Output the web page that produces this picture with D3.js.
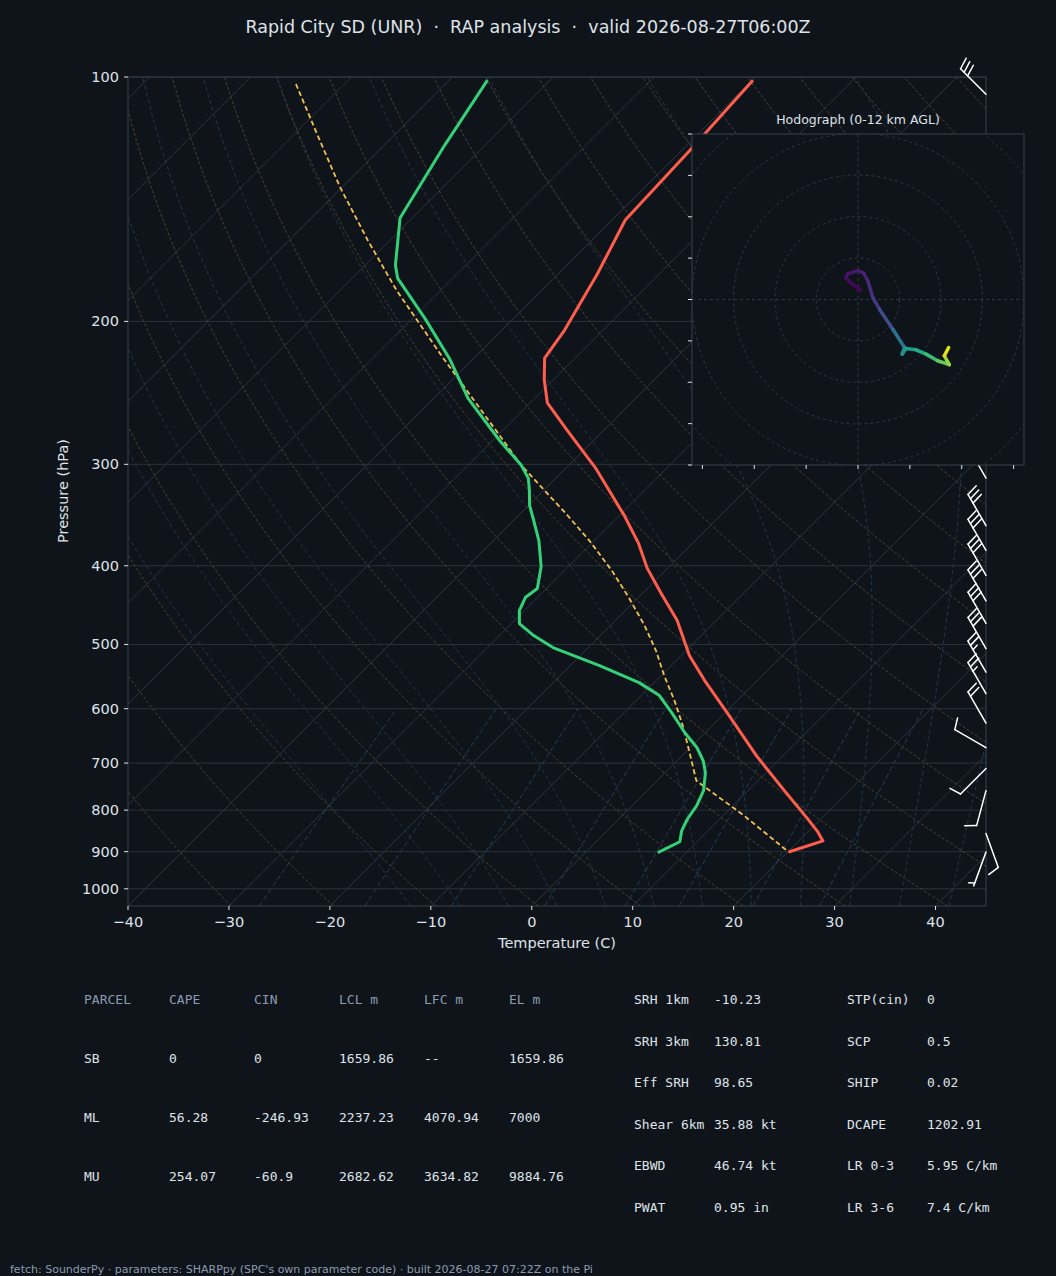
<!DOCTYPE html>
<html><head><meta charset="utf-8">
<script src="https://cdn.jsdelivr.net/npm/d3@7"></script>
<style>html,body{margin:0;padding:0;background:#0f141b;}svg{display:block;}</style>
</head><body>
<svg id="c" width="1056" height="1276"></svg>
<script>
// ---------- data ----------
const tempP = [100.9,123,150,175,205,222,236,252,272,303,347,375,403,433,467,516,554,612,686,751,820,851,873,901];
const tempT = [-59.9,-59.2,-58.7,-56.1,-53.8,-53.0,-50.9,-48.3,-43.7,-37.1,-29.5,-25.4,-22.0,-18.1,-13.9,-9.2,-5.2,0.7,7.4,13.1,18.7,21.0,22.4,20.1];
const dewP = [100.9,121.3,149.2,170.5,176.9,198.3,222.2,248.8,280.4,300.8,312.2,323.1,337.1,351.8,372.4,400.9,426.7,437.7,454.2,471.3,487.6,504.5,530.9,557.2,578.1,606.7,642.3,670.3,695.5,719.4,757.2,790.2,820.4,848.4,875,902.6];
const dewT = [-86.2,-84.0,-81.2,-77.0,-75.5,-68.8,-62.4,-56.6,-49.3,-44.7,-42.7,-41.4,-39.9,-38.0,-35.5,-32.7,-30.9,-31.2,-30.5,-29.2,-26.6,-23.5,-17.1,-11.5,-8.2,-5.3,-2.0,0.7,2.6,4.0,5.6,6.4,6.8,7.4,8.3,7.2];
const parP = [102.0,117.9,136.7,158.9,183.1,221.4,246.6,276.4,300.8,323.1,343.9,372.4,405.5,438.9,474.0,508.8,546.3,586.5,629.6,675.9,736.1,812.8,901];
const parT = [-104.8,-97.6,-90.2,-82.2,-74.4,-63.2,-56.7,-49.8,-44.7,-39.9,-35.7,-30.5,-25.3,-20.8,-16.6,-13.0,-9.7,-6.2,-2.9,0.2,3.9,12.1,20.1];
const barbP = [105,312,357,383,411,442,471,506,541,575,625,670,711,757,855,901];
const barbDir = [315,330,330,330,330,330,330,330,330,330,330,300,225,195,160,200];
const barbSpd = [30,30,30,30,30,30,30,30,25,25,20,10,10,10,10,5];
const hodoU = [0.64,-1.2,-2.96,-2.4,0,1.36,2.4,3.6,5.2,8.4,11.2,10.64,11.6,14,16.4,19.2,22,20.8,21.84];
const hodoV = [2.24,3.6,5.2,6.24,6.96,6.4,4.4,0.4,-2.4,-7.2,-11.6,-13.2,-11.84,-12.16,-13.2,-14.8,-15.76,-13.6,-11.6];
const hodoZ = [0,0.2,0.4,0.6,0.8,1.0,1.3,1.7,2.2,3.5,5.5,6,6.3,7,7.8,8.6,9.5,10.8,12];
const pTicks = [100,200,300,400,500,600,700,800,900,1000];
const tTicks = [-40,-30,-20,-10,0,10,20,30,40];
const parcelHead = ["PARCEL","CAPE","CIN","LCL m","LFC m","EL m"];
const parcelRows = [["SB","0","0","1659.86","--","1659.86"],["ML","56.28","-246.93","2237.23","4070.94","7000"],["MU","254.07","-60.9","2682.62","3634.82","9884.76"]];
const paramL = [["SRH 1km","-10.23"],["SRH 3km","130.81"],["Eff SRH","98.65"],["Shear 6km","35.88 kt"],["EBWD","46.74 kt"],["PWAT","0.95 in"]];
const paramR = [["STP(cin)","0"],["SCP","0.5"],["SHIP","0.02"],["DCAPE","1202.91"],["LR 0-3","5.95 C/km"],["LR 3-6","7.4 C/km"]];

// ---------- layout ----------
const svg = d3.select("#c");
const L=128,R=986,T=77,B=906;
const x = d3.scaleLinear().domain([-40,45]).range([L,R]);
const y = d3.scaleLog().domain([1050,100]).range([B,T]);
const sx = (t,p)=> x(t) + (B - y(p));
const BG="#0f141b", TXT="#dfe3e8";
svg.append("rect").attr("width",1056).attr("height",1276).attr("fill",BG);

svg.append("text").attr("x",528).attr("y",33).attr("text-anchor","middle").style("white-space","pre")
  .attr("font-family","DejaVu Sans").attr("font-size",17.5).attr("fill",TXT)
  .text("Rapid City SD (UNR)  \u00b7  RAP analysis  \u00b7  valid 2026-08-27T06:00Z");

svg.append("defs").append("clipPath").attr("id","pc").append("rect")
  .attr("x",L).attr("y",T).attr("width",R-L).attr("height",B-T);
const g = svg.append("g").attr("clip-path","url(#pc)");

pTicks.forEach(p=>g.append("line").attr("x1",L).attr("x2",R).attr("y1",y(p)).attr("y2",y(p))
  .attr("stroke","#2a323d").attr("stroke-width",1));
for(let t=-120;t<=50;t+=10){
  g.append("line").attr("x1",sx(t,1050)).attr("y1",y(1050)).attr("x2",sx(t,100)).attr("y2",y(100))
   .attr("stroke","#2c3540").attr("stroke-width",1);
}
const line = d3.line().x(d=>sx(d[0],d[1])).y(d=>y(d[1]));
const plevs = d3.range(1050,99,-10);
for(let th=240;th<=480;th+=10){
  const pts = plevs.map(p=>[th*Math.pow(p/1000,0.2857)-273.15,p]);
  g.append("path").attr("d",line(pts)).attr("fill","none").attr("stroke","#4d4233")
   .attr("stroke-width",1).attr("stroke-dasharray","3,2");
}
function es(tc){return 6.112*Math.exp(17.67*tc/(tc+243.5));}
function rs(tc,p){const e=es(tc);return 0.622*e/(p-e);}
function dTdp(tk,p){const r=rs(tk-273.15,p);const Rd=287,Lv=2.5e6,cp=1005;
  return (Rd*tk+Lv*r)/(p*(cp+Lv*Lv*r*0.622/(Rd*tk*tk)));}
for(let t0=-15;t0<=40;t0+=5){
  let pts=[];let tk=t0+273.15;
  let tkd=tk; for(let p=1000;p<1050;p+=5){tkd+=dTdp(tkd,p)*5;} pts.push([tkd-273.15,1050]);
  for(let p=1000;p>=100;p-=5){pts.push([tk-273.15,p]);tk-=dTdp(tk,p)*5;}
  pts.sort((a,b)=>b[1]-a[1]);
  g.append("path").attr("d",line(pts)).attr("fill","none").attr("stroke","#22384a")
   .attr("stroke-width",1).attr("stroke-dasharray","4,3");
}
[0.4,1,2,4,7,10,16,24].forEach(w=>{
  const pts=d3.range(1050,595,-10).map(p=>{const e=p*(w/1000)/(0.622+w/1000);
    const l=Math.log(e/6.112);return [243.5*l/(17.67-l),p];});
  g.append("path").attr("d",line(pts)).attr("fill","none").attr("stroke","#25405a")
   .attr("stroke-width",1).attr("stroke-dasharray","5,3");
});
const prof=(P,Tv)=>P.map((p,i)=>[Tv[i],p]);
g.append("path").attr("d",line(prof(parP,parT))).attr("fill","none").attr("stroke","#f2c14e")
  .attr("stroke-width",1.8).attr("stroke-dasharray","5,3");
g.append("path").attr("d",line(prof(tempP,tempT))).attr("fill","none").attr("stroke","#ff5e4d")
  .attr("stroke-width",3).attr("stroke-linejoin","round");
g.append("path").attr("d",line(prof(dewP,dewT))).attr("fill","none").attr("stroke","#34d178")
  .attr("stroke-width",3).attr("stroke-linejoin","round");

svg.append("rect").attr("x",L).attr("y",T).attr("width",R-L).attr("height",B-T)
  .attr("fill","none").attr("stroke","#36404d");
const ax = svg.append("g").attr("font-family","DejaVu Sans").attr("font-size",14.5).attr("fill",TXT);
pTicks.forEach(p=>{
  svg.append("line").attr("x1",L-4).attr("x2",L).attr("y1",y(p)).attr("y2",y(p)).attr("stroke",TXT);
  ax.append("text").attr("x",L-9).attr("y",y(p)+5).attr("text-anchor","end").text(p);
});
tTicks.forEach(t=>{
  svg.append("line").attr("x1",x(t)).attr("x2",x(t)).attr("y1",B).attr("y2",B+4).attr("stroke",TXT);
  ax.append("text").attr("x",x(t)).attr("y",B+21).attr("text-anchor","middle").text(t<0?"\u2212"+(-t):t);
});
ax.append("text").attr("x",557).attr("y",948).attr("text-anchor","middle").text("Temperature (C)");
ax.append("text").attr("transform","translate(68,491) rotate(-90)").attr("text-anchor","middle").text("Pressure (hPa)");

const bg = svg.append("g").attr("stroke","#ffffff").attr("stroke-width",1.5).attr("fill","none").attr("stroke-linecap","round");
barbP.forEach((p,i)=>{
  const a=barbDir[i]*Math.PI/180; const tx=Math.sin(a), ty=-Math.cos(a);
  const rx=-ty, ry=tx; const bx=R, by=y(p); const len=36;
  const ex=bx+tx*len, ey=by+ty*len;
  bg.append("line").attr("x1",bx).attr("y1",by).attr("x2",ex).attr("y2",ey);
  let s=barbSpd[i]; const tilt=0.3;
  const dx=rx+tx*tilt, dy=ry+ty*tilt; const nrm=Math.hypot(dx,dy);
  const full=Math.floor(s/10), half=(s%10)>=5?1:0;
  for(let j=0;j<full;j++){const d=len-j*5;const px=bx+tx*d,py=by+ty*d;
    bg.append("line").attr("x1",px).attr("y1",py).attr("x2",px+dx/nrm*12).attr("y2",py+dy/nrm*12);}
  if(half){const d=len-full*5-(full?0:3);const px=bx+tx*d,py=by+ty*d;
    bg.append("line").attr("x1",px).attr("y1",py).attr("x2",px+dx/nrm*6).attr("y2",py+dy/nrm*6);}
});

const HX=692,HY=134,HW=332,HH=331;
const hu=d3.scaleLinear().domain([-40,40]).range([HX,HX+HW]);
const hv=d3.scaleLinear().domain([-40,40]).range([HY+HH,HY]);
svg.append("rect").attr("x",HX).attr("y",HY).attr("width",HW).attr("height",HH).attr("fill",BG).attr("stroke","#36404d");
svg.append("text").attr("x",858).attr("y",124).attr("text-anchor","middle").attr("font-family","DejaVu Sans")
  .attr("font-size",12.5).attr("fill",TXT).text("Hodograph (0-12 km AGL)");
const hg=svg.append("g");
hg.append("clipPath").attr("id","hc").append("rect").attr("x",HX).attr("y",HY).attr("width",HW).attr("height",HH);
const hin=hg.append("g").attr("clip-path","url(#hc)");
[10,20,30,40,50].forEach(r=>hin.append("circle").attr("cx",hu(0)).attr("cy",hv(0)).attr("r",hu(r)-hu(0))
  .attr("fill","none").attr("stroke","#2e3845").attr("stroke-dasharray","3,3"));
hin.append("line").attr("x1",HX).attr("x2",HX+HW).attr("y1",hv(0)).attr("y2",hv(0)).attr("stroke","#2e3845").attr("stroke-dasharray","3,3");
hin.append("line").attr("y1",HY).attr("y2",HY+HH).attr("x1",hu(0)).attr("x2",hu(0)).attr("stroke","#2e3845").attr("stroke-dasharray","3,3");
d3.range(-40,41,10).forEach(v=>hg.append("line").attr("x1",HX-4).attr("x2",HX).attr("y1",hv(v)).attr("y2",hv(v)).attr("stroke",TXT));
[-37.5,-25,-12.5,0,12.5,25,37.5].forEach(u=>hg.append("line").attr("x1",hu(u)).attr("x2",hu(u)).attr("y1",HY+HH).attr("y2",HY+HH+4).attr("stroke",TXT));
for(let i=0;i<hodoU.length-1;i++){
  hin.append("line").attr("x1",hu(hodoU[i])).attr("y1",hv(hodoV[i])).attr("x2",hu(hodoU[i+1])).attr("y2",hv(hodoV[i+1]))
    .attr("stroke",d3.interpolateViridis((hodoZ[i]+hodoZ[i+1])/24)).attr("stroke-width",3.5).attr("stroke-linecap","round");
}

const tf=svg.append("g").attr("font-family","DejaVu Sans Mono").attr("font-size",13);
const cols=[84,169,254,339,424,509];
parcelHead.forEach((h,j)=>tf.append("text").attr("x",cols[j]).attr("y",1004).attr("fill","#8c9bb0").text(h));
parcelRows.forEach((r,i)=>r.forEach((v,j)=>tf.append("text").attr("x",cols[j]).attr("y",1063+i*59).attr("fill",TXT).text(v)));
paramL.forEach((r,i)=>{tf.append("text").attr("x",634).attr("y",1004+i*41.6).attr("fill",TXT).text(r[0]);
  tf.append("text").attr("x",714).attr("y",1004+i*41.6).attr("fill",TXT).text(r[1]);});
paramR.forEach((r,i)=>{tf.append("text").attr("x",847).attr("y",1004+i*41.6).attr("fill",TXT).text(r[0]);
  tf.append("text").attr("x",927).attr("y",1004+i*41.6).attr("fill",TXT).text(r[1]);});
svg.append("text").attr("x",10).attr("y",1273).attr("font-family","DejaVu Sans").attr("font-size",11)
  .attr("fill","#8c9bb0").text("fetch: SounderPy · parameters: SHARPpy (SPC's own parameter code) · built 2026-08-27 07:22Z on the Pi");
</script></body></html>
